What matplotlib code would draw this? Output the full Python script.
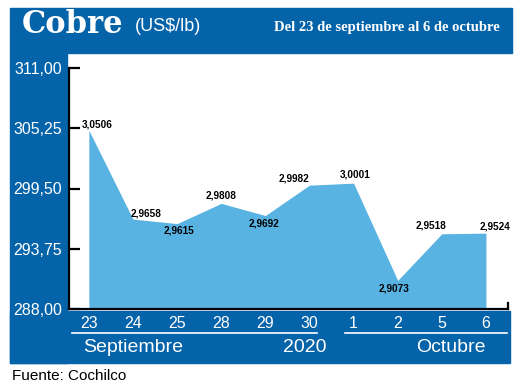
import matplotlib
matplotlib.use("agg")
import matplotlib.pyplot as plt
from matplotlib.patches import Rectangle
from matplotlib.lines import Line2D

dias = ['23', '24', '25', '28', '29', '30', '1', '2', '5', '6']
precio = [3.0506, 2.9658, 2.9615, 2.9808, 2.9692, 2.9982, 3.0001, 2.9073, 2.9518, 2.9524]
yticks = [288.00, 293.75, 299.50, 305.25, 311.00]

# label offsets in pixels (dx, dy)
offs = [(8, 6), (13, 6), (2, -7), (0, 8), (-1, -8), (-15, 7), (2, 9), (-4, -8), (-11, 8), (9, 7)]

azul = '#0563A9'
celeste = '#58B3E3'
W, H = 520, 389

fig = plt.figure(figsize=(5.2, 3.89), dpi=100)

def rect(x0, y0, x1, y1):
    fig.patches.append(Rectangle((x0 / W, 1 - y1 / H), (x1 - x0) / W, (y1 - y0) / H,
                                 transform=fig.transFigure, color=azul, zorder=-1))

rect(10, 8, 512, 53)
rect(10, 53, 67, 363)
rect(10, 311, 510, 363)

ax = fig.add_axes([69 / W, 80 / H, (508 - 69) / W, (321 - 80) / H])
ax.patch.set_alpha(0)
x = list(range(len(dias)))
cents = [p * 100 for p in precio]
ax.fill_between(x, 288, cents, color=celeste, linewidth=0)
ax.set_xlim(-0.45, 9.5)
ax.set_ylim(288, 311)
ax.set_yticks(yticks)
ax.set_yticklabels([f'{t:.2f}'.replace('.', ',') for t in yticks])
ax.set_xticks(x)
ax.set_xticklabels(dias)
ax.spines['top'].set_visible(False)
ax.spines['right'].set_visible(False)
for s in ['left', 'bottom']:
    ax.spines[s].set_linewidth(1.6)
    ax.spines[s].set_color('black')
ax.tick_params(axis='y', direction='in', length=8, width=1.6, pad=5,
               labelcolor='white', labelsize=11.5)
ax.tick_params(axis='x', length=0, pad=5, labelcolor='white', labelsize=11.5)
for lab in ax.get_xticklabels() + ax.get_yticklabels():
    lab.set_family('Liberation Sans')
ax.plot([9.5, 9.5], [288, 288.6], color='black', lw=1.6, clip_on=False)

for xi, v, (dx, dy) in zip(x, precio, offs):
    ax.annotate(f'{v:.4f}'.replace('.', ','), (xi, v * 100),
                xytext=(dx * 0.72, dy * 0.72), textcoords='offset points',
                ha='center', va='center', fontsize=7.2, fontweight='bold',
                family='Liberation Sans')

# header
fig.text(22 / W, 1 - 33 / H, 'Cobre', color='white', fontsize=22, fontweight='bold',
         family='DejaVu Serif', va='baseline')
fig.text(135 / W, 1 - 31 / H, '(US$/lb)', color='white', fontsize=13,
         family='Liberation Sans', va='baseline')
fig.text(500 / W, 1 - 31 / H, 'Del 23 de septiembre al 6 de octubre', color='white',
         fontsize=10.5, fontweight='bold', family='Liberation Serif', ha='right', va='baseline')

# bottom band
for x0, x1 in [(72, 317), (345, 507)]:
    fig.lines.append(Line2D([x0 / W, x1 / W], [1 - 333 / H, 1 - 333 / H],
                            transform=fig.transFigure, color='white', lw=1.2))
for txt, cx in [('Septiembre', 133), ('2020', 305), ('Octubre', 451)]:
    fig.text(cx / W, 1 - 348 / H, txt, color='white', fontsize=14,
             family='Liberation Sans', ha='center', va='center')

fig.text(12 / W, 1 - 376 / H, 'Fuente: Cochilco', color='black', fontsize=11,
         family='Liberation Sans', va='center')

plt.savefig('out.png', dpi=100)
plt.close()
